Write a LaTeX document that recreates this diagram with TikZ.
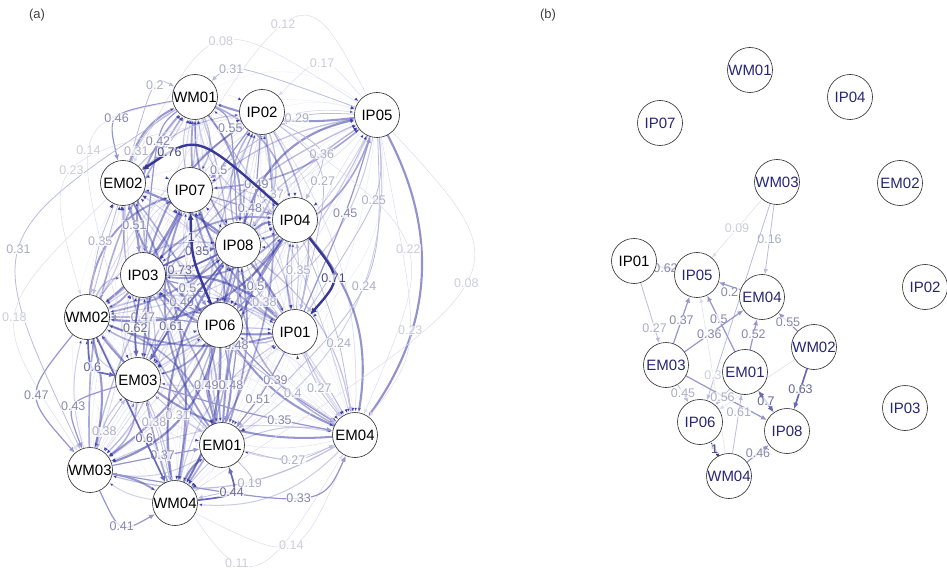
\documentclass[tikz,border=0pt]{standalone}
\usepackage{fontspec}
\setmainfont{Liberation Sans}
\usetikzlibrary{arrows.meta,calc}
\pgfdeclarelayer{bg}
\pgfsetlayers{bg,main}
\definecolor{ecol}{RGB}{62,62,168}
\definecolor{lcol}{RGB}{72,72,128}
\definecolor{ntext}{RGB}{38,38,118}
\tikzset{
  nd/.style={circle,draw=black!85,line width=0.6pt,fill=white,minimum size=45pt,inner sep=0pt,font=\fontsize{15}{15}\selectfont},
  ndb/.style={nd,text=ntext},
  e1/.style={draw=ecol!18,line width=0.5pt,-{Latex[length=5pt,width=4pt]}},
  e2/.style={draw=ecol!35,line width=0.8pt,-{Latex[length=5.5pt,width=4.5pt]}},
  e3/.style={draw=ecol!55,line width=1.2pt,-{Latex[length=6pt,width=5pt]}},
  e4/.style={draw=ecol!78,line width=1.7pt,-{Latex[length=6.5pt,width=5.5pt]}},
  e5/.style={draw=ecol!90!black,line width=2.4pt,-{Latex[length=7pt,width=6pt]}},
  lab/.style={font=\fontsize{12.5}{13}\selectfont,inner sep=0.5pt,fill=white,fill opacity=0.75,text opacity=1},
  l1/.style={lab,text=lcol!28},
  l2/.style={lab,text=lcol!45},
  l3/.style={lab,text=lcol!65},
  l4/.style={lab,text=lcol!82},
  l5/.style={lab,text=lcol},
  ptitle/.style={font=\fontsize{13}{14}\selectfont,text=black!75}
}
\newcommand\ed[6]{\draw[e#1] (#2) .. controls ($1.3333*(#4)-0.16667*(#2)-0.16667*(#3)$) .. node[pos=#5,l#1]{#6} (#3);}
\newcommand\sed[5]{\draw[e#1] (#2) -- node[pos=#4,l#1]{#5} (#3);}
\newcommand\sen[3]{\draw[e#1] (#2) -- (#3);}
\begin{document}
\begin{tikzpicture}[x=1pt,y=-1pt]
\useasboundingbox (0,0) rectangle (947,572);
\node[ptitle] (pa) at (37,15) {(a)};
\node[ptitle] (pb) at (548,15) {(b)};
% panel (a) nodes
\node[nd] (aWM01) at (195,97) {WM01};
\node[nd] (aIP02) at (262,112) {IP02};
\node[nd] (aIP05) at (377,115) {IP05};
\node[nd] (aEM02) at (123,183) {EM02};
\node[nd] (aIP07) at (190,190) {IP07};
\node[nd] (aIP04) at (295,220) {IP04};
\node[nd] (aIP08) at (238,245) {IP08};
\node[nd] (aIP03) at (143,275) {IP03};
\node[nd] (aWM02) at (87,317) {WM02};
\node[nd] (aIP06) at (220,325) {IP06};
\node[nd] (aIP01) at (295,332) {IP01};
\node[nd] (aEM03) at (138,380) {EM03};
\node[nd] (aEM01) at (222,445) {EM01};
\node[nd] (aEM04) at (355,435) {EM04};
\node[nd] (aWM03) at (90,470) {WM03};
\node[nd] (aWM04) at (175,503) {WM04};
% panel (b) nodes
\node[ndb] (bWM01) at (750,70) {WM01};
\node[ndb] (bIP04) at (850,97) {IP04};
\node[ndb] (bIP07) at (660,123) {IP07};
\node[ndb] (bWM03) at (777,182) {WM03};
\node[ndb] (bEM02) at (900,183) {EM02};
\node[nd] (bIP01) at (634,261) {IP01};
\node[ndb] (bIP05) at (697,275) {IP05};
\node[ndb] (bEM04) at (762,297) {EM04};
\node[ndb] (bIP02) at (925,287) {IP02};
\node[ndb] (bWM02) at (814,347) {WM02};
\node[ndb] (bEM03) at (666,365) {EM03};
\node[ndb] (bEM01) at (745,372) {EM01};
\node[ndb] (bIP03) at (905,408) {IP03};
\node[ndb] (bIP06) at (700,422) {IP06};
\node[ndb] (bIP08) at (787,431) {IP08};
\node[ndb] (bWM04) at (729,476) {WM04};
\begin{pgfonlayer}{bg}
% dense background network of panel (a)
\pgfmathsetseed{42}
\foreach \sa in {WM01,IP02,IP05,EM02,IP07,IP04,IP08,IP03,WM02,IP06,IP01,EM03,EM01,EM04,WM03,WM04}{
  \foreach \ta in {WM01,IP02,IP05,EM02,IP07,IP04,IP08,IP03,WM02,IP06,IP01,EM03,EM01,EM04,WM03,WM04}{
    \ifx\sa\ta\else
      \pgfmathsetmacro\rr{rnd}
      \pgfmathsetmacro\ww{\rr*\rr}
      \pgfmathsetmacro\op{0.08+0.5*\ww}
      \pgfmathsetmacro\lw{0.4+1.8*\ww}
      \pgfmathsetmacro\bb{10+22*rnd}
      \draw[ecol,draw opacity=\op,line width=\lw pt,-{Latex[length=4.5pt,width=3.5pt]}] (a\sa) to[bend left=\bb] (a\ta);
    \fi
  }
}
% labelled edges of panel (a)
\ed{1}{aIP05}{aWM02}{283,29}{.5}{0.12}
\ed{1}{aIP05}{aEM02}{222,45}{.5}{0.08}
\ed{1}{aIP05}{aIP02}{322,67}{.5}{0.17}
\ed{2}{aIP05}{aWM01}{245,73}{.65}{0.31}
\ed{2}{aEM02}{aWM01}{155,92}{.55}{0.2}
\ed{3}{aWM01}{aEM02}{120,120}{.5}{0.46}
\ed{2}{aIP05}{aIP07}{292,122}{.45}{0.29}
\ed{3}{aWM01}{aIP08}{228,130}{.5}{0.55}
\ed{3}{aWM01}{aIP03}{160,142}{.5}{0.42}
\ed{2}{aWM01}{aWM02}{138,152}{.5}{0.31}
\ed{3}{aIP02}{aIP07}{218,169}{.5}{0.5}
\ed{3}{aIP02}{aIP06}{251,218}{.25}{0.49}
\ed{2}{aIP02}{aIP04}{318,155}{.5}{0.36}
\ed{2}{aIP02}{aIP01}{320,182}{.5}{0.27}
\ed{3}{aIP01}{aIP05}{345,213}{.5}{0.45}
\ed{2}{aIP05}{aIP01}{372,200}{.5}{0.25}
\ed{1}{aIP02}{aEM04}{405,250}{.5}{0.22}
\ed{2}{aIP05}{aEM01}{362,285}{.5}{0.24}
\ed{1}{aIP05}{aWM04}{462,283}{.5}{0.08}
\ed{1}{aIP05}{aEM04}{408,330}{.5}{0.23}
\ed{3}{aIP07}{aIP04}{250,208}{.5}{0.48}
\ed{2}{aIP02}{aIP08}{270,190}{.55}{0.37}
\ed{3}{aEM02}{aIP03}{135,229}{.4}{0.51}
\ed{2}{aEM02}{aWM02}{100,245}{.45}{0.35}
\ed{3}{aIP03}{aIP06}{190,290}{.5}{0.52}
\ed{3}{aIP06}{aIP03}{182,302}{.5}{0.49}
\ed{3}{aIP04}{aIP06}{252,290}{.42}{0.5}
\ed{2}{aIP08}{aIP01}{263,298}{.6}{0.38}
\ed{2}{aIP01}{aIP04}{298,270}{.5}{0.35}
\ed{3}{aIP06}{aWM02}{153,318}{.65}{0.47}
\ed{2}{aWM01}{aWM03}{22,250}{.5}{0.31}
\ed{1}{aEM02}{aWM03}{18,318}{.5}{0.18}
\ed{1}{aIP02}{aWM02}{75,172}{.5}{0.23}
\ed{1}{aWM01}{aEM03}{92,152}{.5}{0.14}
\ed{3}{aWM02}{aWM03}{40,395}{.5}{0.47}
\ed{3}{aEM03}{aWM03}{77,408}{.5}{0.43}
\ed{2}{aWM03}{aEM03}{105,432}{.5}{0.38}
\ed{3}{aWM03}{aWM04}{123,522}{.5}{0.41}
\ed{1}{aWM04}{aEM04}{290,541}{.5}{0.14}
\ed{1}{aWM02}{aEM04}{237,558}{.5}{0.11}
\ed{3}{aWM03}{aEM04}{297,495}{.5}{0.33}
\ed{2}{aEM01}{aEM04}{293,458}{.5}{0.27}
\ed{2}{aEM01}{aWM04}{245,482}{.5}{0.19}
\ed{3}{aWM03}{aEM01}{156,457}{.6}{0.37}
\ed{2}{aEM03}{aEM01}{178,415}{.5}{0.31}
\ed{3}{aIP01}{aEM01}{262,392}{.62}{0.51}
\ed{3}{aIP06}{aEM04}{285,388}{.38}{0.39}
\ed{3}{aEM03}{aEM04}{246,412}{.74}{0.35}
\ed{2}{aIP03}{aEM04}{249,362}{.8}{0.4}
\ed{2}{aIP01}{aEM04}{320,388}{.5}{0.27}
\ed{2}{aIP04}{aEM04}{335,330}{.6}{0.24}
\ed{3}{aIP06}{aEM01}{230,385}{.5}{0.48}
\ed{3}{aIP08}{aEM01}{236,345}{.5}{0.48}
\ed{3}{aEM01}{aIP06}{208,385}{.5}{0.49}
\ed{2}{aEM03}{aWM04}{160,441}{.22}{0.38}
\ed{4}{aIP03}{aIP08}{192,254}{.64}{0.35}
\ed{4}{aIP08}{aIP03}{185,268}{.65}{0.73}
\ed{4}{aIP03}{aEM03}{136,328}{.5}{0.62}
\ed{4}{aIP08}{aEM03}{178,318}{.62}{0.61}
\ed{4}{aWM02}{aEM03}{95,365}{.5}{0.6}
\ed{4}{aWM04}{aEM01}{228,490}{.5}{0.44}
\ed{4}{aWM02}{aWM04}{131,410}{.74}{0.6}
\ed{5}{aIP04}{aEM02}{200,150}{.8}{0.76}
\ed{5}{aIP06}{aIP07}{195,258}{.78}{1}
\ed{5}{aIP04}{aIP01}{330,278}{.5}{0.71}
% panel (b) edges
\sed{1}{bWM03}{bIP05}{.5}{0.09}
\sed{2}{bWM03}{bEM04}{.5}{0.16}
\sen{2}{bWM03}{bIP06}
\sen{1}{bWM02}{bIP06}
\sed{1}{bWM04}{bIP05}{.5}{0.3}
\sed{3}{bIP01}{bIP05}{.5}{0.62}
\sed{2}{bIP01}{bEM03}{.75}{0.27}
\sed{3}{bEM03}{bIP05}{.5}{0.37}
\sed{3}{bEM01}{bIP05}{.58}{0.5}
\draw[e3] (bEM04) -- node[pos=.5,l3,below=1pt]{0.2} (bIP05);
\sed{3}{bEM03}{bEM04}{.42}{0.36}
\sed{3}{bEM01}{bEM04}{.5}{0.52}
\sed{3}{bWM02}{bEM04}{.5}{0.55}
\sed{4}{bWM02}{bIP08}{.5}{0.63}
\draw[e4,{Latex[length=6.5pt,width=5.5pt]}-{Latex[length=6.5pt,width=5.5pt]}] (bEM01) -- node[pos=.5,l4]{0.7} (bIP08);
\sen{3}{bEM03}{bIP08}
\sed{2}{bEM03}{bIP06}{.5}{0.45}
\sed{2}{bEM01}{bIP06}{.5}{0.56}
\sed{2}{bWM04}{bEM01}{.7}{0.61}
\sed{5}{bWM04}{bIP06}{.5}{1}
\sed{3}{bWM04}{bIP08}{.5}{0.46}
\end{pgfonlayer}
\end{tikzpicture}
\end{document}
